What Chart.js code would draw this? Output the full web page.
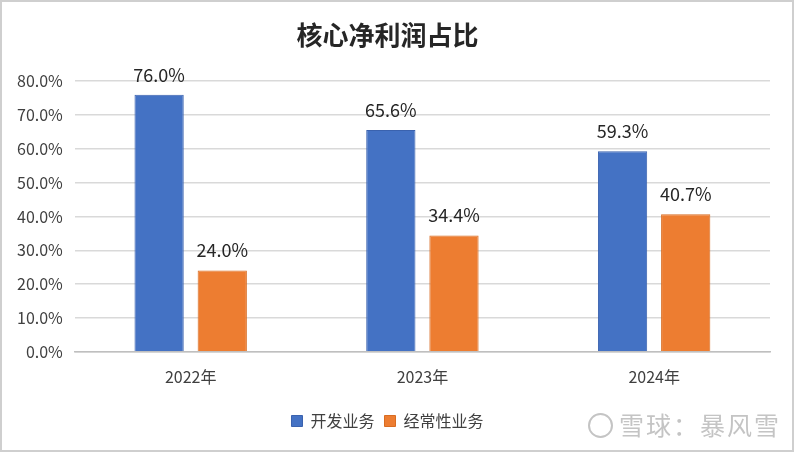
<!DOCTYPE html>
<html>
<head>
<meta charset="utf-8">
<script src="https://cdn.jsdelivr.net/npm/chart.js@4.4.1/dist/chart.umd.min.js"></script>
<style>
  html, body { margin: 0; padding: 0; background: #fff; }
  #wrap { position: relative; width: 790px; height: 448px; border: 2px solid #cfcfcf; background: #fff; }
  #wm { position: absolute; left: 586px; top: 404px; font-family: "Noto Sans CJK SC", sans-serif; font-size: 25px; color: #c4c4c4; letter-spacing: 2px; }
  #wm .logo { display: inline-block; width: 21px; height: 21px; border: 2px solid #c4c4c4; border-radius: 50%; vertical-align: -3px; margin-right: 6px; }
</style>
</head>
<body>
<div id="wrap">
  <canvas id="chart" width="790" height="448"></canvas>
  <div id="wm"><span class="logo"></span>雪球：暴风雪</div>
</div>
<script>
// 数据
const years = ['2022年', '2023年', '2024年'];
const kaifa = [76.0, 65.6, 59.3];      // 开发业务
const jingchang = [24.0, 34.4, 40.7];  // 经常性业务
const yTicks = [0, 10, 20, 30, 40, 50, 60, 70, 80];

const FONT = '"Noto Sans CJK SC", "Noto Sans", sans-serif';

// 柱顶数值标签
const barLabels = {
    id: 'barLabels',
    afterDatasetsDraw(chart) {
        const ctx = chart.ctx;
        ctx.save();
        ctx.font = '18px ' + FONT;
        ctx.fillStyle = '#262626';
        ctx.textAlign = 'center';
        ctx.textBaseline = 'bottom';
        chart.data.datasets.forEach((ds, i) => {
            chart.getDatasetMeta(i).data.forEach((bar, j) => {
                ctx.fillText(ds.data[j].toFixed(1) + '%', bar.x, bar.y - 11);
            });
        });
        ctx.restore();
    }
};

new Chart(document.getElementById('chart'), {
    type: 'bar',
    data: {
        labels: years,
        datasets: [{
            label: '开发业务',
            data: kaifa,
            backgroundColor: '#4472C4',
            borderColor: '#3A62AE',
            borderWidth: 1,
            categoryPercentage: 0.545,
            barPercentage: 0.78
        }, {
            label: '经常性业务',
            data: jingchang,
            backgroundColor: '#ED7D31',
            borderColor: '#D86C22',
            borderWidth: 1,
            categoryPercentage: 0.545,
            barPercentage: 0.78
        }]
    },
    options: {
        responsive: false,
        animation: false,
        layout: { padding: { left: 3, right: 22, top: 0, bottom: 11 } },
        scales: {
            y: {
                min: 0,
                max: 80,
                afterBuildTicks: (axis) => { axis.ticks = yTicks.map(v => ({ value: v })); },
                grid: { color: '#d9d9d9', lineWidth: 1.5, drawTicks: false },
                border: { display: false },
                ticks: {
                    padding: 12,
                    color: '#404040',
                    font: { size: 16, family: FONT },
                    callback: (v) => v.toFixed(1) + '%'
                }
            },
            x: {
                grid: { display: false, drawTicks: false },
                border: { color: '#bfbfbf', width: 1.5 },
                ticks: {
                    padding: 16,
                    color: '#404040',
                    font: { size: 16, family: FONT }
                }
            }
        },
        plugins: {
            title: {
                display: true,
                text: '核心净利润占比',
                color: '#262626',
                font: { size: 26, weight: 'bold', family: FONT },
                padding: { top: 18, bottom: 30 }
            },
            legend: {
                position: 'bottom',
                labels: {
                    boxWidth: 11,
                    boxHeight: 11,
                    padding: 10,
                    color: '#404040',
                    font: { size: 16, family: FONT }
                }
            },
            tooltip: { enabled: false }
        }
    },
    plugins: [barLabels]
});
</script>
</body>
</html>
